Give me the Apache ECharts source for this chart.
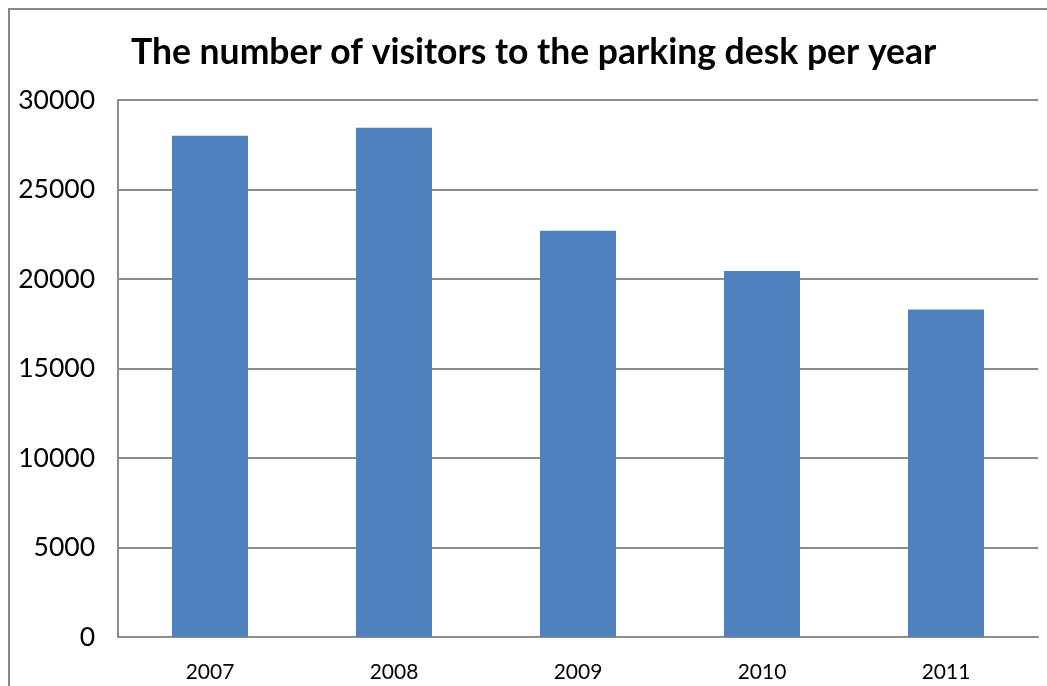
<!DOCTYPE html>
<html>
<head>
<meta charset="utf-8">
<script src="https://cdn.jsdelivr.net/npm/echarts@6/dist/echarts.min.js"></script>
<style>
html,body{margin:0;padding:0;background:#fff;}
#chart{width:1047px;height:686px;}
</style>
</head>
<body>
<div id="chart"></div>
<script>
const titleText = 'The number of visitors to the parking desk per year';
const years = ['2007', '2008', '2009', '2010', '2011'];
const visitors = [28000, 28450, 22700, 20450, 18300];
const yTicks = { min: 0, max: 30000, interval: 5000 };

const chart = echarts.init(document.getElementById('chart'));
chart.setOption({
  backgroundColor: '#ffffff',
  animation: false,
  title: {
    text: titleText,
    left: 126,
    top: 30,
    textStyle: { fontFamily: 'Lato', fontWeight: 'bold', fontSize: 35.5, color: '#000' }
  },
  graphic: [{
    type: 'polyline',
    shape: { points: [[9, 686], [9, 9], [1047, 9]] },
    style: { stroke: '#888888', lineWidth: 2, fill: null }
  }],
  grid: { left: 118, right: 9, top: 100, bottom: 49, containLabel: false },
  xAxis: {
    type: 'category',
    data: years,
    axisLine: { show: true, lineStyle: { color: '#8c8c8c', width: 2 } },
    axisTick: { show: false },
    axisLabel: { fontFamily: 'Lato', fontSize: 21, color: '#000', margin: 25 }
  },
  yAxis: {
    type: 'value',
    min: yTicks.min, max: yTicks.max, interval: yTicks.interval,
    axisLine: { show: true, lineStyle: { color: '#8c8c8c', width: 2 } },
    axisTick: { show: false },
    axisLabel: { fontFamily: 'Lato', fontSize: 26.5, color: '#000', margin: 23, formatter: v => String(v) },
    splitLine: { show: true, lineStyle: { color: '#8c8c8c', width: 2 } }
  },
  series: [{
    type: 'bar',
    data: visitors,
    barWidth: 76,
    itemStyle: { color: '#4f81bd' }
  }]
});
</script>
</body>
</html>
